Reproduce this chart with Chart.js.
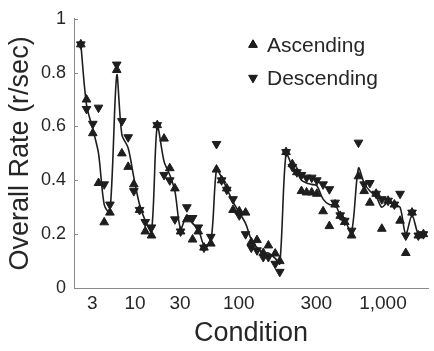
<!DOCTYPE html>
<html>
<head>
<meta charset="utf-8">
<script src="https://cdn.jsdelivr.net/npm/chart.js@4.4.1/dist/chart.umd.min.js"></script>
<style>
  html, body { margin: 0; padding: 0; background: #fff; }
  #wrap { width: 434px; height: 351px; }
</style>
</head>
<body>
<div id="wrap"><canvas id="rateChart" width="434" height="351"></canvas></div>
<script>
// condition rank along the x axis
const positions = [
  1.2, 2.2, 3.3, 4.3, 5.3, 6.3,
  7.5, 8.4, 9.5, 10.5, 11.5, 12.5, 13.6,
  14.6, 15.8, 16.8, 17.7, 18.7, 19.8, 20.8, 21.8, 22.8, 24.0,
  25.0, 25.9, 26.8, 27.9, 29.0, 30.1, 31.1, 32.1, 33.2, 34.1, 35.3, 36.1,
  37.2, 38.3, 39.1, 39.9, 40.8, 41.7, 42.6, 43.7, 44.8, 45.8, 46.7, 47.5, 48.7,
  49.9, 50.9, 51.9, 53.0, 54.0, 55.1, 56.2, 57.2, 58.2, 59.3, 60.4, 61.3
];
const ascending = [
  0.905, 0.70, 0.575, 0.39, 0.244, 0.28,
  0.81, 0.50, 0.45, 0.385, 0.29, 0.21, 0.195,
  0.605, 0.555, 0.445, 0.37, 0.21, 0.255, 0.18, 0.21, 0.15, 0.165,
  0.44, 0.40, 0.37, 0.29, 0.285, 0.28, 0.17, 0.178, 0.13, 0.158, 0.128, 0.10,
  0.505, 0.46, 0.43, 0.36, 0.355, 0.355, 0.35, 0.285, 0.23, 0.31, 0.268, 0.245, 0.195,
  0.415, 0.36, 0.317, 0.35, 0.22, 0.324, 0.31, 0.25, 0.13, 0.28, 0.195, 0.20
];
const descending = [
  0.905, 0.665, 0.61, 0.67, 0.385, 0.31,
  0.83, 0.62, 0.56, 0.36, 0.29, 0.245, 0.225,
  0.605, 0.42, 0.40, 0.255, 0.21, 0.30, 0.26, 0.225, 0.15, 0.19,
  0.535, 0.40, 0.365, 0.33, 0.27, 0.20, 0.15, 0.14, 0.115, 0.115, 0.09, 0.06,
  0.505, 0.45, 0.43, 0.42, 0.41, 0.41, 0.40, 0.385, 0.367, 0.317, 0.27, 0.25, 0.213,
  0.54, 0.385, 0.39, 0.35, 0.33, 0.324, 0.31, 0.35, 0.195, 0.28, 0.195, 0.20
];
const fitLine = [
  0.906, 0.68, 0.59, 0.50, 0.31, 0.28,
  0.79, 0.57, 0.52, 0.41, 0.31, 0.25, 0.21,
  0.60, 0.47, 0.42, 0.36, 0.22, 0.27, 0.24, 0.22, 0.16, 0.17,
  0.44, 0.41, 0.37, 0.32, 0.28, 0.24, 0.18, 0.15, 0.13, 0.13, 0.11, 0.09,
  0.50, 0.45, 0.43, 0.40, 0.39, 0.385, 0.38, 0.33, 0.31, 0.31, 0.27, 0.25, 0.21,
  0.445, 0.39, 0.36, 0.34, 0.30, 0.32, 0.31, 0.30, 0.20, 0.27, 0.20, 0.20
];
const tickPositions = [3.2, 10.7, 18.6, 28.9, 42.5, 54.2];
const tickLabels = ['3', '10', '30', '100', '300', '1,000'];
const yTicks = [0, 0.2, 0.4, 0.6, 0.8, 1];

const ink = '#1e1e1e';
const textInk = '#262626';
const axisGrey = '#8a8a8a';
const fontFamily = '"Liberation Sans", Arial, Helvetica, sans-serif';

// small legend in the upper right, drawn from the dataset labels
const cornerLegend = {
  id: 'cornerLegend',
  afterDraw(chart) {
    const ctx = chart.ctx;
    const area = chart.chartArea;
    const items = chart.data.datasets.filter(ds => ds.legendRow !== undefined);
    ctx.save();
    ctx.font = '21px ' + fontFamily;
    ctx.textBaseline = 'middle';
    items.forEach(ds => {
      const y = area.top + 26 + ds.legendRow * 33;
      const x = area.left + 179;
      Chart.helpers.drawPoint(ctx, {
        pointStyle: 'triangle', radius: 5, rotation: ds.rotation || 0,
        borderWidth: 1
      }, x, y);
      ctx.fillStyle = ink;
      ctx.strokeStyle = ink;
      ctx.fill();
      ctx.fillStyle = textInk;
      ctx.fillText(ds.label, x + 14, y + 1);
    });
    ctx.restore();
  }
};

// short inward tick marks on the y axis
const inwardTicks = {
  id: 'inwardTicks',
  afterDatasetsDraw(chart) {
    const ctx = chart.ctx;
    const ys = chart.scales.y;
    const left = chart.chartArea.left;
    ctx.save();
    ctx.strokeStyle = axisGrey;
    ctx.lineWidth = 1;
    yTicks.forEach(v => {
      const py = Math.round(ys.getPixelForValue(v)) + 0.5;
      ctx.beginPath();
      ctx.moveTo(left, py);
      ctx.lineTo(left + 4, py);
      ctx.stroke();
    });
    ctx.restore();
  }
};

new Chart(document.getElementById('rateChart'), {
  type: 'scatter',
  data: {
    datasets: [
      {
        label: 'Ascending',
        legendRow: 0,
        data: positions.map((x, i) => ({ x: x, y: ascending[i] })),
        pointStyle: 'triangle',
        pointRadius: 5,
        pointBackgroundColor: ink,
        pointBorderColor: ink,
        pointBorderWidth: 1,
        order: 1
      },
      {
        label: 'Descending',
        legendRow: 1,
        rotation: 180,
        data: positions.map((x, i) => ({ x: x, y: descending[i] })),
        pointStyle: 'triangle',
        pointRotation: 180,
        pointRadius: 5,
        pointBackgroundColor: ink,
        pointBorderColor: ink,
        pointBorderWidth: 1,
        order: 2
      },
      {
        label: 'Fit',
        type: 'line',
        data: positions.map((x, i) => ({ x: x, y: fitLine[i] })),
        borderColor: ink,
        borderWidth: 1.6,
        pointRadius: 0,
        tension: 0.3,
        fill: false,
        order: 3
      }
    ]
  },
  options: {
    responsive: false,
    animation: false,
    layout: { padding: { top: 16, right: 6, left: 4, bottom: 1 } },
    plugins: {
      legend: { display: false },
      tooltip: { enabled: false }
    },
    scales: {
      x: {
        type: 'linear',
        min: 0,
        max: 62.1,
        afterBuildTicks: (scale) => {
          scale.ticks = tickPositions.map(v => ({ value: v }));
        },
        ticks: {
          autoSkip: false,
          maxRotation: 0,
          color: textInk,
          font: { family: fontFamily, size: 19 },
          padding: 4,
          callback: (value) => tickLabels[tickPositions.indexOf(value)]
        },
        grid: { display: false, drawTicks: false },
        border: { color: axisGrey, width: 1 },
        title: {
          display: true,
          text: 'Condition',
          color: textInk,
          font: { family: fontFamily, size: 27 },
          padding: { top: 0, bottom: 0 }
        },
        afterFit: (scale) => { scale.height = 62; }
      },
      y: {
        min: 0,
        max: 1,
        afterBuildTicks: (scale) => {
          scale.ticks = yTicks.map(v => ({ value: v }));
        },
        ticks: {
          color: textInk,
          font: { family: fontFamily, size: 18 },
          padding: 8,
          callback: (value) => String(value)
        },
        grid: { display: false, drawTicks: false },
        border: { color: axisGrey, width: 1 },
        title: {
          display: true,
          text: 'Overall Rate (r/sec)',
          color: textInk,
          font: { family: fontFamily, size: 27 },
          padding: { top: 0, bottom: 0 }
        },
        afterFit: (scale) => { scale.width = 70; }
      }
    }
  },
  plugins: [cornerLegend, inwardTicks]
});
</script>
</body>
</html>
